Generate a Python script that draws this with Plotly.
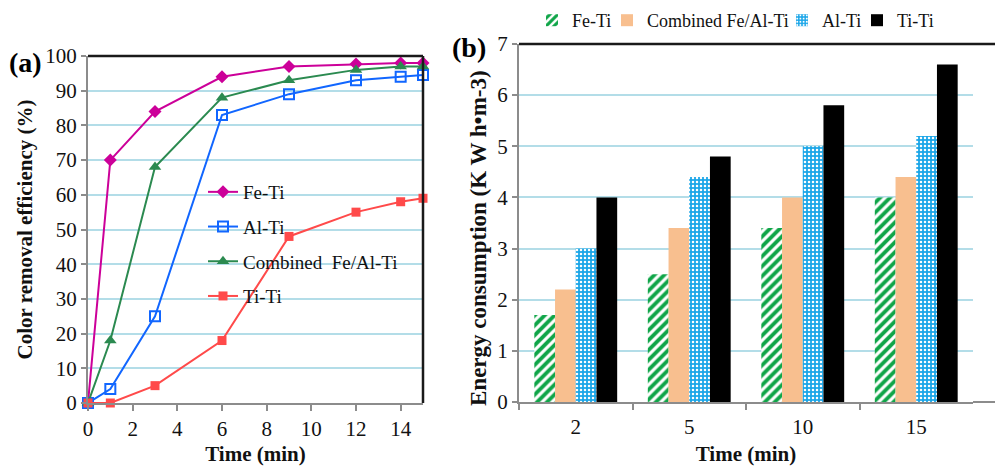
import plotly.graph_objects as go

# ---- data (a) ----
time_a = [0, 1, 3, 6, 9, 12, 14, 15]
fe_ti_a = [0, 70, 84, 94, 97, 97.7, 98, 98]
al_ti_a = [0, 4, 25, 83, 89, 93, 94, 94.5]
comb_a = [0, 18, 68, 88, 93, 96, 97, 97]
ti_ti_a = [0, 0, 5, 18, 48, 55, 58, 59]

# ---- data (b) ----
time_b = ["2", "5", "10", "15"]
fe_ti_b = [1.7, 2.5, 3.4, 4.0]
comb_b = [2.2, 3.4, 4.0, 4.4]
al_ti_b = [3.0, 4.4, 5.0, 5.2]
ti_ti_b = [4.0, 4.8, 5.8, 6.6]

W, H = 995, 466
FONT = "Liberation Serif"
GRID = "#b3dde8"
AXC = "#8c8c8c"

fig = go.Figure()

line_series = [
    ("Fe-Ti", fe_ti_a, "#cc0099", dict(symbol="diamond", size=10)),
    ("Al-Ti", al_ti_a, "#1166ff", dict(symbol="square-open", size=10, line=dict(width=2))),
    ("Combined  Fe/Al-Ti", comb_a, "#2b8a50", dict(symbol="triangle-up", size=11)),
    ("Ti-Ti", ti_ti_a, "#ff4a4a", dict(symbol="square", size=9)),
]
for i, (name, ys, col, mk) in enumerate(line_series):
    m = dict(color=col, **mk)
    fig.add_trace(go.Scatter(
        x=time_a, y=ys, name=name, mode="lines+markers",
        line=dict(color=col, width=2), marker=m, cliponaxis=False,
        xaxis="x", yaxis="y", legend="legend", legendgroup=f"g{i}",
    ))

bar_series = [
    ("Fe-Ti", fe_ti_b, dict(color="#ffffff", pattern=dict(shape="/", fgcolor="#0fa548", bgcolor="#ffffff",
                                                          fgopacity=1, size=7, solidity=0.55))),
    ("Combined Fe/Al-Ti", comb_b, dict(color="#f8bf8f")),
    ("Al-Ti", al_ti_b, dict(color="#1ba6e8", pattern=dict(shape=".", fgcolor="#ffffff", bgcolor="#1ba6e8",
                                                         fgopacity=1, size=4, solidity=0.3))),
    ("Ti-Ti", ti_ti_b, dict(color="#000000")),
]
bar_legends = ["legend2", "legend3", "legend4", "legend5"]
bar_legend_text_x = [572, 647, 822, 897]
for (name, ys, mk), lg in zip(bar_series, bar_legends):
    fig.add_trace(go.Bar(
        x=time_b, y=ys, name=name, marker=dict(line=dict(width=0), **mk),
        xaxis="x2", yaxis="y2", legend=lg,
    ))

tickfont = dict(family=FONT, size=21, color="#111111")
titlefont = dict(family=FONT, size=21, color="#111111", weight="bold")

X2R = 973 / W

layout_legends = {}
for lg, tx in zip(bar_legends, bar_legend_text_x):
    layout_legends[lg] = dict(x=(tx - 40) / W, y=1 - 2 / H, xanchor="left", yanchor="top",
                              bgcolor="rgba(0,0,0,0)", font=dict(family=FONT, size=18, color="#111111"),
                              itemwidth=30)

fig.update_layout(
    width=W, height=H,
    margin=dict(l=0, r=0, t=0, b=0, autoexpand=False),
    paper_bgcolor="white", plot_bgcolor="white",
    barmode="group", bargap=0.27, bargroupgap=0,
    showlegend=True,
    xaxis=dict(domain=[88 / W, 423 / W], range=[0, 15], tickvals=list(range(0, 15, 2)),
               showgrid=False, zeroline=False, showline=True, linecolor=AXC, linewidth=2,
               ticks="outside", ticklen=6, tickcolor=AXC, tickwidth=2, tickfont=tickfont,
               title=dict(text="Time (min)", font=titlefont, standoff=9), anchor="y"),
    yaxis=dict(domain=[1 - 403 / H, 1 - 56 / H], range=[0, 100], dtick=10,
               showgrid=True, gridcolor=GRID, gridwidth=1.5, zeroline=False,
               showline=True, linecolor=AXC, linewidth=2, ticks="outside", ticklen=5,
               tickcolor=AXC, tickwidth=2, tickfont=tickfont,
               title=dict(text="Color removal efficiency (%)", font=titlefont, standoff=7), anchor="x"),
    xaxis2=dict(domain=[519 / W, X2R], range=[-0.5, 3.5], type="category",
                tickson="boundaries", showgrid=False, zeroline=False, showline=True,
                linecolor=AXC, linewidth=2, ticks="outside", ticklen=6, tickcolor=AXC, tickwidth=2,
                ticklabelstandoff=5,
                tickfont=tickfont, title=dict(text="Time (min)", font=titlefont, standoff=11), anchor="y2"),
    yaxis2=dict(domain=[1 - 402 / H, 1 - 44 / H], range=[0, 7], dtick=1,
                showgrid=True, gridcolor=GRID, gridwidth=1.5, zeroline=False,
                showline=True, linecolor=AXC, linewidth=2, ticks="outside", ticklen=5,
                tickcolor=AXC, tickwidth=2, tickfont=tickfont, anchor="x2"),
    legend=dict(x=203 / W, y=1 - 173 / H, xanchor="left", yanchor="top",
                bgcolor="rgba(0,0,0,0)", font=dict(family=FONT, size=19, color="#111111"),
                tracegroupgap=7, itemwidth=30),
    **layout_legends,
    shapes=[
        dict(type="line", xref="x domain", yref="y domain", x0=0, x1=1, y0=1, y1=1,
             line=dict(color="#1a1a1a", width=2.5)),
        dict(type="line", xref="x domain", yref="y domain", x0=1, x1=1, y0=0, y1=1,
             line=dict(color="#1a1a1a", width=2.5)),
        dict(type="line", xref="paper", yref="y2 domain", x0=519 / W, x1=1, y0=1, y1=1,
             line=dict(color="#1a1a1a", width=2.5)),
        dict(type="line", xref="paper", yref="y2 domain", x0=X2R, x1=1, y0=0, y1=0,
             line=dict(color=AXC, width=2)),
    ],
    annotations=[
        dict(text="<b>(a)</b>", x=25 / W, y=1 - 62 / H, xref="paper", yref="paper",
             xanchor="center", yanchor="middle",
             showarrow=False, font=dict(family=FONT, size=28, color="#000000")),
        dict(text="<b>(b)</b>", x=469 / W, y=1 - 48 / H, xref="paper", yref="paper",
             xanchor="center", yanchor="middle",
             showarrow=False, font=dict(family=FONT, size=28, color="#000000")),
        dict(text="<b>Energy consumption (K W h•m-3)</b>", x=478 / W, y=1 - 238 / H,
             xref="paper", yref="paper", xanchor="center", yanchor="middle", textangle=-90,
             showarrow=False, font=dict(family=FONT, size=23, color="#111111")),
    ],
)

fig.write_html("out.html")
